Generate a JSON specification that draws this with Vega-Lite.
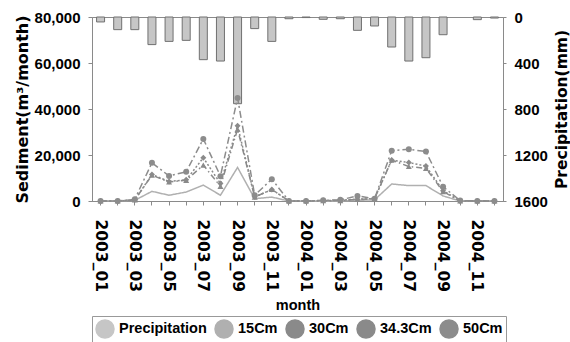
{
  "$schema": "https://vega.github.io/schema/vega-lite/v6.json",
  "width": 411,
  "height": 184,
  "autosize": {"type": "none"},
  "padding": {"left": 92, "top": 17, "right": 67, "bottom": 141},
  "background": "white",
  "config": {
    "font": "Liberation Sans",
    "view": {"stroke": "#8a8a8a", "strokeWidth": 1},
    "axis": {"grid": false, "domainColor": "#8a8a8a", "tickColor": "#8a8a8a", "labelColor": "#000000", "titleColor": "#000000"}
  },
  "datasets": {
    "precip": [
      {"month": "2003_01", "series": "Precipitation", "precip": 43},
      {"month": "2003_02", "series": "Precipitation", "precip": 110},
      {"month": "2003_03", "series": "Precipitation", "precip": 110},
      {"month": "2003_04", "series": "Precipitation", "precip": 240},
      {"month": "2003_05", "series": "Precipitation", "precip": 212},
      {"month": "2003_06", "series": "Precipitation", "precip": 203},
      {"month": "2003_07", "series": "Precipitation", "precip": 371},
      {"month": "2003_08", "series": "Precipitation", "precip": 383},
      {"month": "2003_09", "series": "Precipitation", "precip": 754},
      {"month": "2003_10", "series": "Precipitation", "precip": 101},
      {"month": "2003_11", "series": "Precipitation", "precip": 212},
      {"month": "2003_12", "series": "Precipitation", "precip": 15},
      {"month": "2004_01", "series": "Precipitation", "precip": 5},
      {"month": "2004_02", "series": "Precipitation", "precip": 20},
      {"month": "2004_03", "series": "Precipitation", "precip": 15},
      {"month": "2004_04", "series": "Precipitation", "precip": 116},
      {"month": "2004_05", "series": "Precipitation", "precip": 78},
      {"month": "2004_06", "series": "Precipitation", "precip": 261},
      {"month": "2004_07", "series": "Precipitation", "precip": 383},
      {"month": "2004_08", "series": "Precipitation", "precip": 354},
      {"month": "2004_09", "series": "Precipitation", "precip": 154},
      {"month": "2004_11", "series": "Precipitation", "precip": 23},
      {"month": "2004_12", "series": "Precipitation", "precip": 9}
    ],
    "sed": [
      {"month": "2003_01", "series": "15Cm", "sediment": 0},
      {"month": "2003_02", "series": "15Cm", "sediment": 0},
      {"month": "2003_03", "series": "15Cm", "sediment": 300},
      {"month": "2003_04", "series": "15Cm", "sediment": 4200},
      {"month": "2003_05", "series": "15Cm", "sediment": 2500},
      {"month": "2003_06", "series": "15Cm", "sediment": 3900},
      {"month": "2003_07", "series": "15Cm", "sediment": 6900},
      {"month": "2003_08", "series": "15Cm", "sediment": 2500},
      {"month": "2003_09", "series": "15Cm", "sediment": 14600},
      {"month": "2003_10", "series": "15Cm", "sediment": 1000},
      {"month": "2003_11", "series": "15Cm", "sediment": 1700},
      {"month": "2003_12", "series": "15Cm", "sediment": 0},
      {"month": "2004_01", "series": "15Cm", "sediment": 0},
      {"month": "2004_02", "series": "15Cm", "sediment": 0},
      {"month": "2004_03", "series": "15Cm", "sediment": 0},
      {"month": "2004_04", "series": "15Cm", "sediment": 300},
      {"month": "2004_05", "series": "15Cm", "sediment": 500},
      {"month": "2004_06", "series": "15Cm", "sediment": 7400},
      {"month": "2004_07", "series": "15Cm", "sediment": 6700},
      {"month": "2004_08", "series": "15Cm", "sediment": 6700},
      {"month": "2004_09", "series": "15Cm", "sediment": 2200},
      {"month": "2004_10", "series": "15Cm", "sediment": 0},
      {"month": "2004_11", "series": "15Cm", "sediment": 0},
      {"month": "2004_12", "series": "15Cm", "sediment": 0},
      {"month": "2003_01", "series": "30Cm", "sediment": 0},
      {"month": "2003_02", "series": "30Cm", "sediment": 0},
      {"month": "2003_03", "series": "30Cm", "sediment": 500},
      {"month": "2003_04", "series": "30Cm", "sediment": 11200},
      {"month": "2003_05", "series": "30Cm", "sediment": 8300},
      {"month": "2003_06", "series": "30Cm", "sediment": 9000},
      {"month": "2003_07", "series": "30Cm", "sediment": 15600},
      {"month": "2003_08", "series": "30Cm", "sediment": 6400},
      {"month": "2003_09", "series": "30Cm", "sediment": 31200},
      {"month": "2003_10", "series": "30Cm", "sediment": 1700},
      {"month": "2003_11", "series": "30Cm", "sediment": 5000},
      {"month": "2003_12", "series": "30Cm", "sediment": 0},
      {"month": "2004_01", "series": "30Cm", "sediment": 0},
      {"month": "2004_02", "series": "30Cm", "sediment": 100},
      {"month": "2004_03", "series": "30Cm", "sediment": 200},
      {"month": "2004_04", "series": "30Cm", "sediment": 700},
      {"month": "2004_05", "series": "30Cm", "sediment": 1000},
      {"month": "2004_06", "series": "30Cm", "sediment": 17800},
      {"month": "2004_07", "series": "30Cm", "sediment": 15000},
      {"month": "2004_08", "series": "30Cm", "sediment": 14200},
      {"month": "2004_09", "series": "30Cm", "sediment": 4100},
      {"month": "2004_10", "series": "30Cm", "sediment": 0},
      {"month": "2004_11", "series": "30Cm", "sediment": 0},
      {"month": "2004_12", "series": "30Cm", "sediment": 0},
      {"month": "2003_01", "series": "34.3Cm", "sediment": 0},
      {"month": "2003_02", "series": "34.3Cm", "sediment": 0},
      {"month": "2003_03", "series": "34.3Cm", "sediment": 500},
      {"month": "2003_04", "series": "34.3Cm", "sediment": 11500},
      {"month": "2003_05", "series": "34.3Cm", "sediment": 8500},
      {"month": "2003_06", "series": "34.3Cm", "sediment": 9200},
      {"month": "2003_07", "series": "34.3Cm", "sediment": 18800},
      {"month": "2003_08", "series": "34.3Cm", "sediment": 7600},
      {"month": "2003_09", "series": "34.3Cm", "sediment": 32700},
      {"month": "2003_10", "series": "34.3Cm", "sediment": 1800},
      {"month": "2003_11", "series": "34.3Cm", "sediment": 5000},
      {"month": "2003_12", "series": "34.3Cm", "sediment": 0},
      {"month": "2004_01", "series": "34.3Cm", "sediment": 0},
      {"month": "2004_02", "series": "34.3Cm", "sediment": 200},
      {"month": "2004_03", "series": "34.3Cm", "sediment": 300},
      {"month": "2004_04", "series": "34.3Cm", "sediment": 800},
      {"month": "2004_05", "series": "34.3Cm", "sediment": 1000},
      {"month": "2004_06", "series": "34.3Cm", "sediment": 17800},
      {"month": "2004_07", "series": "34.3Cm", "sediment": 16700},
      {"month": "2004_08", "series": "34.3Cm", "sediment": 15200},
      {"month": "2004_09", "series": "34.3Cm", "sediment": 4500},
      {"month": "2004_10", "series": "34.3Cm", "sediment": 0},
      {"month": "2004_11", "series": "34.3Cm", "sediment": 0},
      {"month": "2004_12", "series": "34.3Cm", "sediment": 0},
      {"month": "2003_01", "series": "50Cm", "sediment": 0},
      {"month": "2003_02", "series": "50Cm", "sediment": 0},
      {"month": "2003_03", "series": "50Cm", "sediment": 800},
      {"month": "2003_04", "series": "50Cm", "sediment": 16600},
      {"month": "2003_05", "series": "50Cm", "sediment": 10900},
      {"month": "2003_06", "series": "50Cm", "sediment": 12700},
      {"month": "2003_07", "series": "50Cm", "sediment": 27000},
      {"month": "2003_08", "series": "50Cm", "sediment": 10800},
      {"month": "2003_09", "series": "50Cm", "sediment": 44800},
      {"month": "2003_10", "series": "50Cm", "sediment": 2500},
      {"month": "2003_11", "series": "50Cm", "sediment": 9500},
      {"month": "2003_12", "series": "50Cm", "sediment": 0},
      {"month": "2004_01", "series": "50Cm", "sediment": 0},
      {"month": "2004_02", "series": "50Cm", "sediment": 300},
      {"month": "2004_03", "series": "50Cm", "sediment": 500},
      {"month": "2004_04", "series": "50Cm", "sediment": 2200},
      {"month": "2004_05", "series": "50Cm", "sediment": 1000},
      {"month": "2004_06", "series": "50Cm", "sediment": 21900},
      {"month": "2004_07", "series": "50Cm", "sediment": 22500},
      {"month": "2004_08", "series": "50Cm", "sediment": 21500},
      {"month": "2004_09", "series": "50Cm", "sediment": 6200},
      {"month": "2004_10", "series": "50Cm", "sediment": 200},
      {"month": "2004_11", "series": "50Cm", "sediment": 0},
      {"month": "2004_12", "series": "50Cm", "sediment": 0}
    ]
  },
  "layer": [
    {
      "data": {"name": "precip"},
      "mark": {"type": "bar", "stroke": "#707070", "strokeWidth": 1, "size": 8},
      "encoding": {
        "x": {
          "field": "month",
          "type": "ordinal",
          "scale": {
            "domain": ["2003_01","2003_02","2003_03","2003_04","2003_05","2003_06","2003_07","2003_08","2003_09","2003_10","2003_11","2003_12","2004_01","2004_02","2004_03","2004_04","2004_05","2004_06","2004_07","2004_08","2004_09","2004_10","2004_11","2004_12"],
            "paddingInner": 0,
            "paddingOuter": 0
          },
          "axis": {
            "title": "month",
            "labelAngle": 90,
            "labelExpr": "toNumber(slice(datum.value, 5)) % 2 == 1 ? datum.value : ''",
            "tickSize": 4,
            "labelPadding": 14,
            "labelFont": "DejaVu Sans",
            "labelFontSize": 15.5,
            "labelFontWeight": "bold",
            "labelOverlap": false,
            "titleFont": "Liberation Sans",
            "titleFontSize": 14.5,
            "titleFontWeight": "bold",
            "titlePadding": 7
          }
        },
        "y": {
          "field": "precip",
          "type": "quantitative",
          "scale": {"domain": [0, 1600], "reverse": true, "nice": false},
          "axis": {
            "orient": "right",
            "values": [0, 400, 800, 1200, 1600],
            "format": "d",
            "tickSize": 3,
            "labelPadding": 8,
            "labelFont": "Liberation Sans",
            "labelFontSize": 15,
            "labelFontWeight": "bold",
            "title": "Precipitation(mm)",
            "titleFont": "DejaVu Sans",
            "titleFontSize": 15.5,
            "titleFontWeight": "bold",
            "titleAngle": -90,
            "titleBaseline": "top",
            "titlePadding": 7
          }
        },
        "color": {
          "field": "series",
          "type": "nominal",
          "scale": {
            "domain": ["Precipitation", "15Cm", "30Cm", "34.3Cm", "50Cm"],
            "range": ["#c6c6c6", "#b0b0b0", "#8a8a8a", "#8a8a8a", "#8c8c8c"]
          },
          "legend": {
            "title": null,
            "orient": "bottom",
            "offset": 4,
            "direction": "horizontal",
            "columns": 5,
            "strokeColor": "#999999",
            "padding": 3,
            "columnPadding": 5,
            "symbolSize": 324,
            "labelFont": "Liberation Sans",
            "labelFontSize": 14.5,
            "labelFontWeight": "bold",
            "labelColor": "#000000",
            "labelOffset": 4,
            "encode": {
              "symbols": {
                "shape": {"value": {"expr": "datum.value == 'Precipitation' ? 'M-1,-0.5H1V0.5H-1Z' : datum.value == '15Cm' ? 'M-1,0H1' : datum.value == '30Cm' ? 'M-1,0H-0.6M-0.22,0.2L0,-0.22L0.22,0.2ZM0.45,0H0.58M0.8,0H1' : datum.value == '34.3Cm' ? 'M-1,0H-0.88M-0.66,0H-0.54M-0.32,0H-0.22M-0.15,0L0,-0.17L0.15,0L0,0.17ZM0.3,0H0.42M0.7,0H0.82' : 'M-1,0H-0.45M-0.2,0L-0.14,-0.14L0,-0.2L0.14,-0.14L0.2,0L0.14,0.14L0,0.2L-0.14,0.14ZM0.45,0H1'"}},
                "fill": {"value": {"expr": "datum.value == 'Precipitation' ? '#c6c6c6' : '#8a8a8a'"}},
                "stroke": {"value": {"expr": "datum.value == 'Precipitation' ? '#707070' : datum.value == '15Cm' ? '#b0b0b0' : '#8a8a8a'"}},
                "strokeWidth": {"value": 1.3},
                "opacity": {"value": 1}
              }
            }
          }
        }
      }
    },
    {
      "data": {"name": "sed"},
      "encoding": {
        "x": {
          "field": "month",
          "type": "ordinal",
          "scale": {
            "domain": ["2003_01","2003_02","2003_03","2003_04","2003_05","2003_06","2003_07","2003_08","2003_09","2003_10","2003_11","2003_12","2004_01","2004_02","2004_03","2004_04","2004_05","2004_06","2004_07","2004_08","2004_09","2004_10","2004_11","2004_12"],
            "paddingInner": 0,
            "paddingOuter": 0
          }
        },
        "y": {
          "field": "sediment",
          "type": "quantitative",
          "scale": {"domain": [0, 80000], "nice": false},
          "axis": {
            "orient": "left",
            "values": [0, 20000, 40000, 60000, 80000],
            "format": ",d",
            "tickSize": 4,
            "labelPadding": 8,
            "labelFont": "Liberation Sans",
            "labelFontSize": 15,
            "labelFontWeight": "bold",
            "title": "Sediment(m³/month)",
            "titleFont": "DejaVu Sans",
            "titleFontSize": 16,
            "titleFontWeight": "bold",
            "titlePadding": 4
          }
        },
        "color": {
          "field": "series",
          "type": "nominal",
          "scale": {
            "domain": ["Precipitation", "15Cm", "30Cm", "34.3Cm", "50Cm"],
            "range": ["#c6c6c6", "#b0b0b0", "#8a8a8a", "#8a8a8a", "#8c8c8c"]
          }
        }
      },
      "layer": [
        {
          "mark": {"type": "line", "strokeWidth": 1.5},
          "encoding": {
            "strokeDash": {
              "field": "series",
              "type": "nominal",
              "scale": {"domain": ["15Cm", "30Cm", "34.3Cm", "50Cm"], "range": [[1, 0], [6, 3, 1.5, 3], [2, 2], [7, 3, 2, 3]]},
              "legend": null
            }
          }
        },
        {
          "transform": [{"filter": "datum.series != '15Cm'"}],
          "mark": {"type": "point", "filled": true, "opacity": 1, "size": 36},
          "encoding": {
            "shape": {
              "field": "series",
              "type": "nominal",
              "scale": {"domain": ["30Cm", "34.3Cm", "50Cm"], "range": ["triangle-up", "diamond", "circle"]},
              "legend": null
            }
          }
        }
      ]
    }
  ],
  "resolve": {"scale": {"y": "independent"}}
}
